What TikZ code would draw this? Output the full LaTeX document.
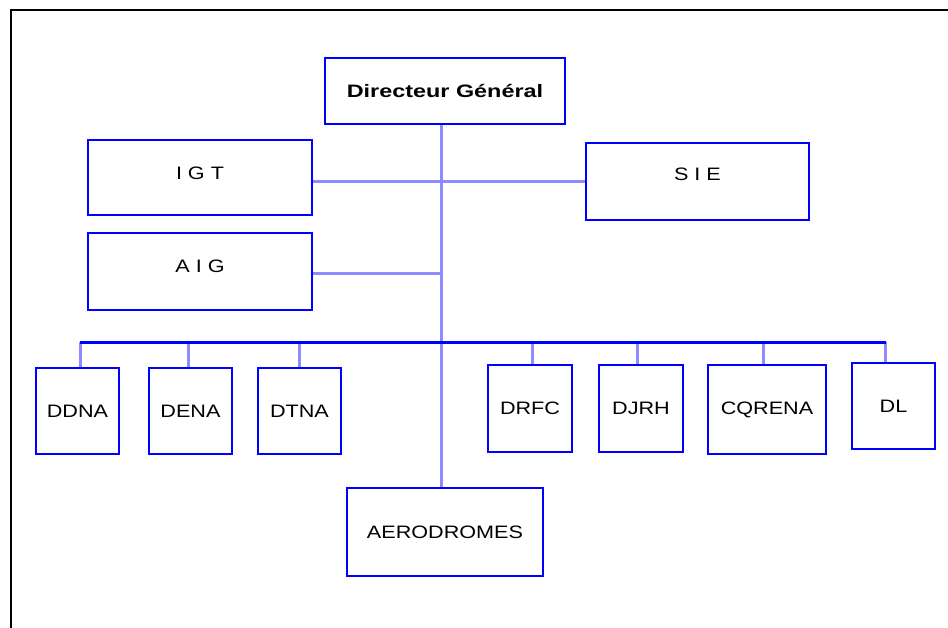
\documentclass[tikz,border=0pt]{standalone}
\usepackage{fontspec}
\setmainfont{Liberation Sans}[FakeStretch=1.2]
\newfontfamily\boldfam{Liberation Sans}[FakeStretch=1.3]
\begin{document}
\begin{tikzpicture}[x=1pt,y=-1pt,
  box/.style={draw=blue, line width=2pt, fill=white, inner sep=0pt, anchor=north west,
    font=\fontsize{18}{20}\selectfont},
  conn/.style={draw=blue!45, line width=3pt},
  bus/.style={draw=blue, line width=3pt},
  frame/.style={draw=black, line width=2pt},
  lbl/.style={font=\fontsize{18}{20}\selectfont, inner sep=0pt}]
\useasboundingbox (0,0) rectangle (948,627);
\fill[white] (0,0) rectangle (948,627);
\draw[frame] (11,640) -- (11,10) -- (960,10);

% top level
\node[box, minimum width=240pt, minimum height=66pt, font=\boldfam\bfseries\fontsize{18}{20}\selectfont]
  (dg) at (324,57) {Directeur G\'en\'eral};
\node[box, minimum width=224pt, minimum height=75pt,
  label={[lbl, yshift=4.5pt]center:I G T}] (igt) at (87,139) {};
\node[box, minimum width=224pt, minimum height=77pt,
  label={[lbl, yshift=5.5pt]center:A I G}] (aig) at (87,232) {};
\node[box, minimum width=223pt, minimum height=77pt,
  label={[lbl, yshift=7.5pt]center:S I E}] (sie) at (585,142) {};

% bottom row
\node[box, minimum width=83pt, minimum height=86pt] (ddna) at (35,367) {DDNA};
\node[box, minimum width=83pt, minimum height=86pt] (dena) at (148,367) {DENA};
\node[box, minimum width=83pt, minimum height=86pt] (dtna) at (257,367) {DTNA};
\node[box, minimum width=84pt, minimum height=87pt] (drfc) at (487,364) {DRFC};
\node[box, minimum width=84pt, minimum height=87pt] (djrh) at (598,364) {DJRH};
\node[box, minimum width=118pt, minimum height=89pt] (cqrena) at (707,364) {CQRENA};
\node[box, minimum width=83pt, minimum height=86pt] (dl) at (851,362) {DL};
\node[box, minimum width=196pt, minimum height=88pt] (aero) at (346,487) {AERODROMES};

% coordinates
\coordinate (trunk) at (441,0);
\coordinate (row1) at (0,181);
\coordinate (row2) at (0,273);
\coordinate (busL) at (80,342);
\coordinate (busR) at (886,342);
\coordinate (d1) at (80,342);
\coordinate (d2) at (188,342);
\coordinate (d3) at (299,342);
\coordinate (d4) at (532,342);
\coordinate (d5) at (637,342);
\coordinate (d6) at (763,342);
\coordinate (d7) at (885,342);

% connectors
\draw[conn] (dg.south -| trunk) -- (aero.north -| trunk);
\draw[conn] (igt.east |- row1) -- (sie.west |- row1);
\draw[conn] (aig.east |- row2) -- (trunk |- row2);
\draw[conn] (d1) -- (d1 |- ddna.north);
\draw[conn] (d2) -- (d2 |- dena.north);
\draw[conn] (d3) -- (d3 |- dtna.north);
\draw[conn] (d4) -- (d4 |- drfc.north);
\draw[conn] (d5) -- (d5 |- djrh.north);
\draw[conn] (d6) -- (d6 |- cqrena.north);
\draw[conn] (d7) -- (d7 |- dl.north);
\draw[bus] (busL) -- (busR);
\end{tikzpicture}
\end{document}
